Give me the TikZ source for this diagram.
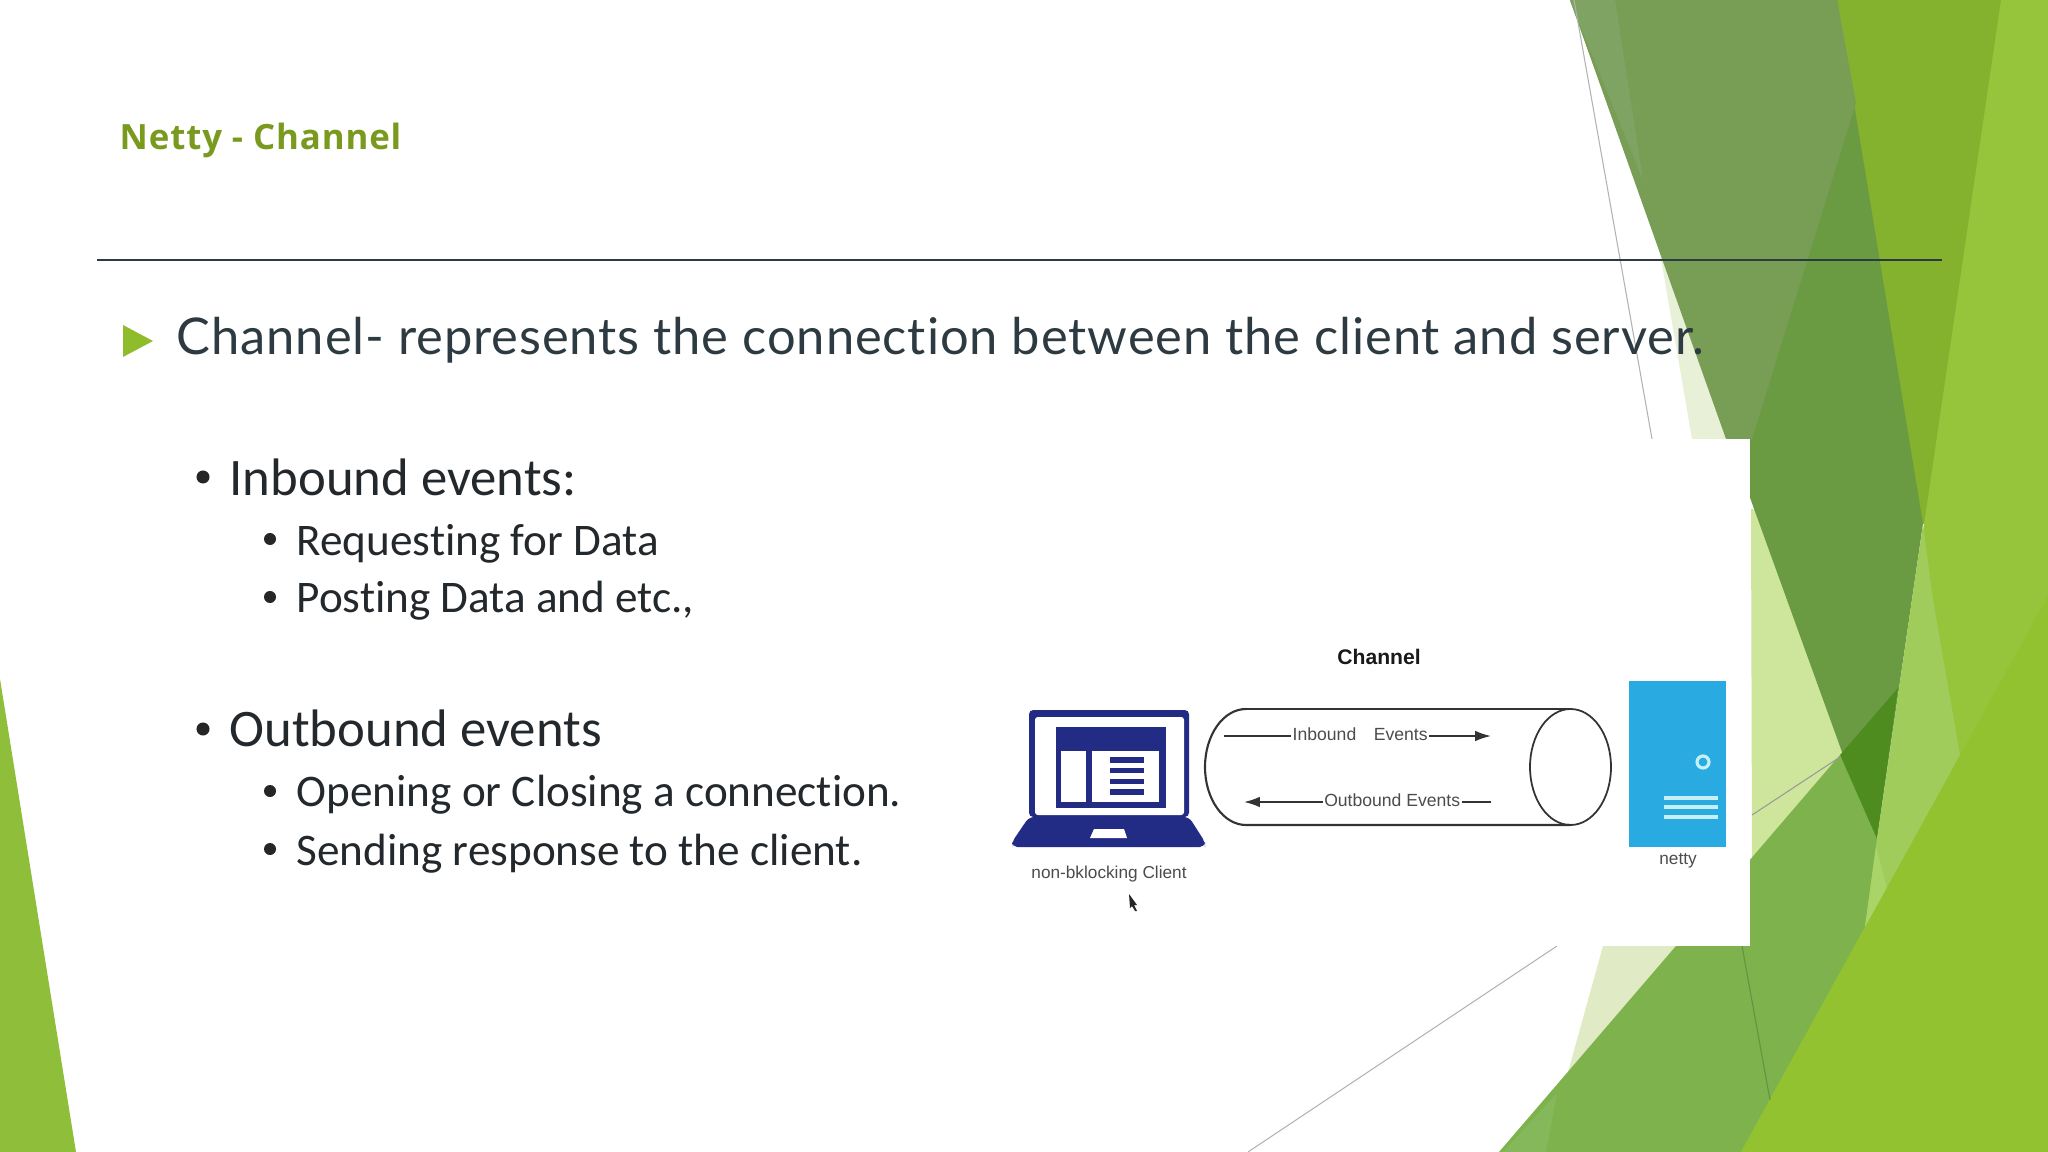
\documentclass[tikz,border=0pt]{standalone}
\usepackage{fontspec}
\setmainfont{Lato}
\newfontfamily\introfont[LetterSpace=1.8,Ligatures=NoCommon]{Lato}
\newfontfamily\titlefont[LetterSpace=2.5]{Open Sans}
\newfontfamily\listfont[Ligatures=NoCommon]{Carlito}
\newfontfamily\figfont{Liberation Sans}
\usetikzlibrary{arrows.meta}
\definecolor{slateink}{HTML}{2D3A42}
\definecolor{listink}{HTML}{23282C}
\definecolor{titlegreen}{HTML}{7A9A1F}
\definecolor{bulletgreen}{HTML}{8FBC2B}
\definecolor{navyblue}{HTML}{232C85}
\definecolor{serverblue}{HTML}{29ABE2}
\definecolor{serverlight}{HTML}{C5F0F8}
\begin{document}
\begin{tikzpicture}[x=0.01cm,y=-0.01cm]
 \tikzset{head/.style = {anchor=base west, inner sep=0pt, text=listink, font=\listfont\fontsize{15}{18}\selectfont}}
 \tikzset{sub/.style = {anchor=base west, inner sep=0pt, text=listink, font=\listfont\fontsize{12.85}{15}\selectfont}}
 \tikzset{dot/.style = {circle, fill=black!85, minimum size=#1, inner sep=0pt}}
 \tikzset{figtext/.style = {inner sep=0pt, text=black!70, font=\figfont\fontsize{4.9}{6}\selectfont}}
 \tikzset{flowtext/.style = {figtext, fill=white, inner xsep=0.5pt, inner ysep=1pt, yshift=0.5pt, font=\figfont\fontsize{5}{6}\selectfont}}
 \tikzset{flow/.style = {line width=0.5pt, black!80, -{Latex[length=4.5pt,width=3pt]}}}
 \tikzset{hair/.style = {line width=0.3pt, black!30}}
 \useasboundingbox (0,0) rectangle (2048,1152);

 \fill[color={rgb,255:red,143;green,191;blue,58}] (0,679) -- (76,1152) -- (0,1152) -- cycle;

 \fill[color={rgb,255:red,233;green,240;blue,216}] (1656,230) -- (1692,439) -- (1760,439) -- cycle;
 \fill[color={rgb,255:red,205;green,230;blue,156}] (1751,509) -- (1800,509) -- (1860,755) -- (1752,860) -- cycle;
 \fill[color={rgb,255:red,224;green,235;blue,197}] (1603,946) -- (1700,946) -- (1600,1072) -- (1568,1072) -- cycle;

 \fill[color={rgb,255:red,132;green,178;blue,47}] (1830,0) -- (2010,0) -- (1940,524) -- (1900,524) -- cycle;
 \fill[color={rgb,255:red,106;green,154;blue,66}] (1570,0) -- (1837,0) -- (1923,524) -- (1876,846) -- cycle;
 \fill[color={rgb,255:red,120;green,158;blue,86}] (1570,0) -- (1837,0) -- (1856,103) -- (1752,439) -- (1726,439) -- cycle;
 \fill[color={rgb,255:red,127;green,163;blue,98}] (1570,0) -- (1615,0) -- (1643,180) -- cycle;
 \fill[color={rgb,255:red,79;green,140;blue,32}] (1840,755) -- (1898,688) -- (1876,846) -- cycle;
 \fill[color={rgb,255:red,125;green,178;blue,77}] (1840,755) -- (1880,846) -- (1880,927) -- (1760,1152) -- (1499,1152) -- cycle;
 \fill[color={rgb,255:red,133;green,184;blue,90}] (1503,1152) -- (1546,1152) -- (1557,1093) -- cycle;
 \fill[color={rgb,255:red,150;green,196;blue,59}] (2001,0) -- (2048,0) -- (2048,1152) -- (1741,1152) -- (1865,927) -- cycle;
 \fill[color={rgb,255:red,160;green,204;blue,92}] (1923,524) -- (1933,600) -- (1960,755) -- (1887,889) -- (1865,927) -- (1876,846) -- cycle;
 \fill[color={rgb,255:red,168;green,212;blue,104}] (1876,846) -- (1887,889) -- (1865,927) -- cycle;
 \fill[color={rgb,255:red,146;green,194;blue,48}] (1741,1152) -- (2048,596) -- (2048,1152) -- cycle;

 \draw[hair] (1574,0) -- (1652,439);
 \draw[hair] (1557,946) -- (1248,1152);
 \draw[hair, black!40] (1752,815) -- (1840,757);
 \draw[line width=0.3pt, color={rgb,255:red,96;green,148;blue,64}] (1742,946) -- (1770,1100);

 \fill[white] (90,439) rectangle (1750,946);

 \node[anchor=base west, inner sep=0pt, text=titlegreen, font=\titlefont\bfseries\fontsize{9.9}{12}\selectfont] (title) at (119,150) {Netty - Channel};
 \coordinate (ruleL) at (97,260);
 \coordinate (ruleR) at (1942,260);
 \draw[slateink, line width=0.85pt] (ruleL) -- (ruleR);

 \fill[bulletgreen] (123,325) -- (153,341) -- (123,357) -- cycle;
 \node[anchor=base west, inner sep=0pt, text=slateink, font=\introfont\fontsize{14.4}{17}\selectfont] (intro) at (176,355) {Channel- represents the connection between the client and server.};

 \node[head] (inbound) at (229,495) {Inbound events:};
 \node[sub] (request) at (296,555) {Requesting for Data};
 \node[sub] (posting) at (296,613) {Posting Data and etc.,};
 \node[head] (outbound) at (229,746) {Outbound events};
 \node[sub] (opening) at (296,806) {Opening or Closing a connection.};
 \node[sub] (sending) at (296,865) {Sending response to the client.};
 \node[dot=13*0.2845pt] (b1) at (203,477) {};
 \node[dot=12*0.2845pt] (b2) at (270,539) {};
 \node[dot=12*0.2845pt] (b3) at (270,597) {};
 \node[dot=13*0.2845pt] (b4) at (203,729) {};
 \node[dot=12*0.2845pt] (b5) at (270,791) {};
 \node[dot=12*0.2845pt] (b6) at (270,849) {};

 % laptop
 \fill[navyblue, rounded corners=1.2pt] (1029,817) -- (1029,710) -- (1189,710) -- (1189,817) -- cycle;
 \fill[navyblue, rounded corners=1.5pt] (1029,817) -- (1189,817) -- (1205,842) -- (1205,847) -- (1012,847) -- (1012,842) -- cycle;
 \fill[white, rounded corners=0.8pt] (1035,717) rectangle (1184,815);
 \fill[navyblue] (1056,727) rectangle (1166,808);
 \fill[white] (1061,751) rectangle (1086,802);
 \fill[white] (1092,751) rectangle (1159,802);
 \foreach \ya/\yb in {757/763,768/773,779/784,789/795}
   \fill[navyblue] (1110,\ya) rectangle (1144,\yb);
 \fill[white] (1094,829) -- (1124,829) -- (1127,838) -- (1090,838) -- cycle;
 \node[figtext] (client) at (1109,874.5) {non-bklocking Client};
 \fill[black!85] (1129,894) -- (1137,905) -- (1134,905) -- (1137,911) -- (1135,911) -- (1132,906) -- (1130,908) -- cycle;

 % channel
 \node[figtext, text=black!90, font=\figfont\bfseries\fontsize{6}{7}\selectfont] (channel) at (1379,657) {Channel};
 \draw[line width=0.6pt, black!80] (1246,709) arc[start angle=270, end angle=90, x radius=41, y radius=58] -- (1570,825);
 \draw[line width=0.6pt, black!80] (1246,709) -- (1570,709);
 \draw[line width=0.5pt, black!80] (1570.5,767) circle[x radius=40.5, y radius=58];

 \coordinate (in1) at (1224,736);
 \coordinate (in2) at (1491,736);
 \coordinate (out1) at (1491,802);
 \coordinate (out2) at (1244,802);
 \draw[flow] (in1) -- node[flowtext, pos=0.51] (inlabel) {Inbound\ \ \ \,Events} (in2);
 \draw[flow] (out1) -- node[flowtext, pos=0.4] (outlabel) {Outbound Events} (out2);

 % server
 \fill[serverblue] (1629,681) rectangle (1726,847);
 \draw[serverlight, line width=0.9pt, fill=serverblue] (1703,762) circle (6);
 \foreach \ya in {798,807,817}
   \draw[serverlight, line width=1.2pt] (1664,\ya) -- (1718,\ya);
 \node[figtext] (netty) at (1678,861) {netty};
\end{tikzpicture}
\end{document}
